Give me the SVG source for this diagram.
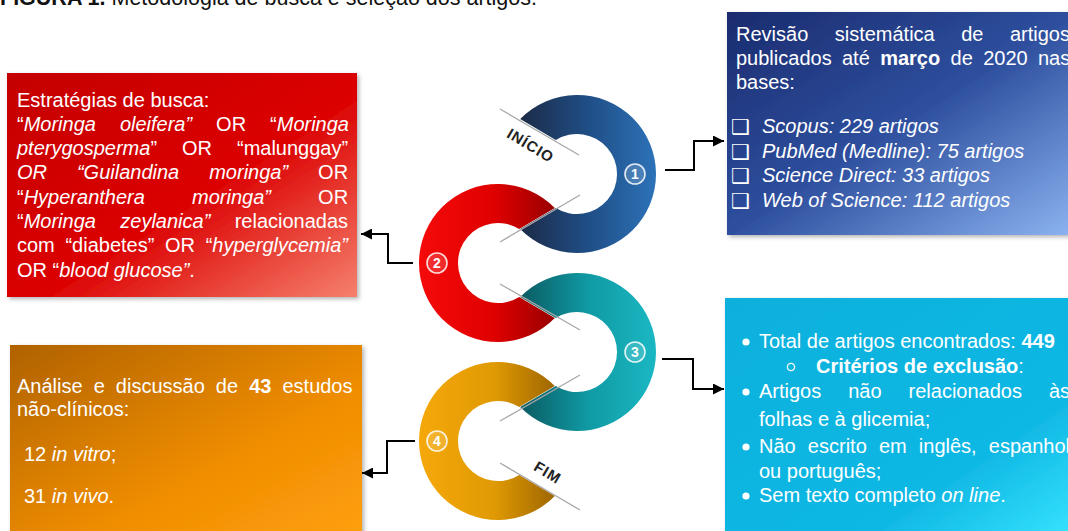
<svg xmlns="http://www.w3.org/2000/svg" width="1068" height="531" viewBox="0 0 1068 531">
<style>
.t{font-family:"Liberation Sans",Arial,sans-serif;font-size:20px;fill:#fff}
.i{font-style:italic}
.b{font-weight:bold}
.ttl{font-family:"Liberation Sans",Arial,sans-serif;font-size:21.5px;fill:#111}
.cut{stroke:#a8a8a8;stroke-width:1.3;fill:none}
.num{font-family:"Liberation Sans",Arial,sans-serif;font-size:14px;font-weight:bold;fill:#fff;text-anchor:middle}
.badge{fill:#fff;fill-opacity:.15;stroke:#fff;stroke-opacity:.85;stroke-width:1.6}
.lbl{font-family:"Liberation Sans",Arial,sans-serif;font-size:15px;font-weight:bold;fill:#222;letter-spacing:1px;text-anchor:middle}
.con{fill:none;stroke:#000;stroke-width:2;marker-end:url(#ah)}
.box{filter:url(#sh)}
.chk{font-family:"DejaVu Sans",sans-serif;font-size:21px;fill:#fff}
</style>
<defs>
<marker id="ah" viewBox="0 0 10 10" refX="10" refY="5" markerWidth="13" markerHeight="11" markerUnits="userSpaceOnUse" orient="auto"><path d="M0,0 L10,5 L0,10 z" fill="#000"/></marker>
<filter id="sh" x="-5%" y="-5%" width="112%" height="115%"><feDropShadow dx="2" dy="2" stdDeviation="2" flood-color="#000" flood-opacity=".3"/></filter>
<linearGradient id="gRed" x1="0" y1="0" x2="1" y2="1"><stop offset="0" stop-color="#c40000"/><stop offset=".55" stop-color="#dc0303"/><stop offset="1" stop-color="#f5806c"/></linearGradient>
<linearGradient id="gBlue" x1="0" y1="0" x2="1" y2="1"><stop offset="0" stop-color="#1a2b6e"/><stop offset=".5" stop-color="#2e4f9e"/><stop offset="1" stop-color="#8db4f2"/></linearGradient>
<linearGradient id="gCyan" x1="0" y1="0" x2="1" y2="1"><stop offset="0" stop-color="#0cb0dc"/><stop offset=".7" stop-color="#10b8e4"/><stop offset="1" stop-color="#38e4ff"/></linearGradient>
<linearGradient id="gOr" x1="0" y1="0" x2="1" y2="1"><stop offset="0" stop-color="#b06200"/><stop offset=".6" stop-color="#ef8d04"/><stop offset="1" stop-color="#ffa00a"/></linearGradient>
<linearGradient id="rBlue" gradientUnits="userSpaceOnUse" x1="520" y1="0" x2="656" y2="0"><stop offset="0" stop-color="#1c2b47"/><stop offset=".5" stop-color="#1f4e86"/><stop offset="1" stop-color="#2d72b8"/></linearGradient>
<linearGradient id="rRed" gradientUnits="userSpaceOnUse" x1="419" y1="0" x2="555" y2="0"><stop offset="0" stop-color="#f50a0a"/><stop offset=".55" stop-color="#e00000"/><stop offset="1" stop-color="#980000"/></linearGradient>
<linearGradient id="rTeal" gradientUnits="userSpaceOnUse" x1="520" y1="0" x2="656" y2="0"><stop offset="0" stop-color="#0b5a62"/><stop offset=".5" stop-color="#109aa4"/><stop offset="1" stop-color="#1ab8c3"/></linearGradient>
<linearGradient id="rOr" gradientUnits="userSpaceOnUse" x1="419" y1="0" x2="555" y2="0"><stop offset="0" stop-color="#f5a80a"/><stop offset=".55" stop-color="#e09a04"/><stop offset="1" stop-color="#9e6600"/></linearGradient>
</defs>
<rect width="1068" height="531" fill="#fff"/>
<text class="ttl" x="0" y="5"><tspan class="b">FIGURA 1.</tspan> Metodologia de busca e seleção dos artigos.</text>

<g id="spiral">
<path d="M520.2,119.1 A79,79 0 1 1 520.2,228.9 L555.8,207.9 A40,40 0 1 0 555.8,140.1 Z" fill="url(#rBlue)"/>
<path d="M554.8,208.1 A79,79 0 1 0 554.8,317.9 L519.2,296.9 A40,40 0 1 1 519.2,229.1 Z" fill="url(#rRed)"/>
<path d="M520.2,297.1 A79,79 0 1 1 520.2,406.9 L555.8,385.9 A40,40 0 1 0 555.8,318.1 Z" fill="url(#rTeal)"/>
<path d="M554.8,386.1 A79,79 0 1 0 554.8,495.9 L519.2,474.9 A40,40 0 1 1 519.2,407.1 Z" fill="url(#rOr)"/>
<line class="cut" x1="500" y1="109" x2="579" y2="155"/>
<line class="cut" x1="500" y1="242" x2="580" y2="195"/>
<line class="cut" x1="500" y1="284" x2="580" y2="330"/>
<line class="cut" x1="500" y1="421" x2="580" y2="375"/>
<line class="cut" x1="500" y1="463" x2="580" y2="510"/>
<text class="lbl" transform="translate(528,150) rotate(31)">INÍCIO</text>
<text class="lbl" transform="translate(545,477) rotate(31)">FIM</text>
</g>

<g id="n1"><circle class="badge" cx="635" cy="174" r="10"/><text class="num" x="635" y="179">1</text></g>
<g id="n2"><circle class="badge" cx="437" cy="263" r="10"/><text class="num" x="437" y="268">2</text></g>
<g id="n3"><circle class="badge" cx="635" cy="352" r="10"/><text class="num" x="635" y="357">3</text></g>
<g id="n4"><circle class="badge" cx="437" cy="441" r="10"/><text class="num" x="437" y="446">4</text></g>

<g id="connectors">
<path class="con" d="M665,170 H694 V141 H724"/>
<path class="con" d="M413,263 H388 V234 H361"/>
<path class="con" d="M662,359 H693 V389 H724"/>
<path class="con" d="M415,441 H387 V473 H362"/>
</g>

<g id="box-busca">
<rect class="box" x="7" y="73" width="350" height="224" fill="url(#gRed)"/>
<text class="t" x="17" y="107">Estratégias de busca:</text>
<text class="t" x="17" y="131" style="word-spacing:18.4px">“<tspan class="i">Moringa oleifera”</tspan> OR “<tspan class="i">Moringa</tspan></text>
<text class="t" x="17" y="155" style="word-spacing:19.4px"><tspan class="i">pterygosperma</tspan>” OR “malunggay”</text>
<text class="t" x="17" y="179" style="word-spacing:24.4px"><tspan class="i">OR “Guilandina moringa”</tspan> OR</text>
<text class="t" x="17" y="204" style="word-spacing:41.6px">“<tspan class="i">Hyperanthera moringa”</tspan> OR</text>
<text class="t" x="17" y="228" style="word-spacing:18.8px">“<tspan class="i">Moringa zeylanica”</tspan> relacionadas</text>
<text class="t" x="17" y="252" style="word-spacing:5.1px">com “diabetes” OR “<tspan class="i">hyperglycemia”</tspan></text>
<text class="t" x="17" y="277">OR “<tspan class="i">blood glucose”</tspan>.</text>
</g>

<g id="box-revisao">
<rect class="box" x="727" y="12" width="350" height="223" fill="url(#gBlue)"/>
<text class="t" x="736" y="41" style="word-spacing:20.9px">Revisão sistemática de artigos</text>
<text class="t" x="736" y="65" style="word-spacing:4.8px">publicados até <tspan class="b">março</tspan> de 2020 nas</text>
<text class="t" x="736" y="89">bases:</text>
<text class="chk" x="731" y="134">❑</text>
<text class="chk" x="731" y="159">❑</text>
<text class="chk" x="731" y="183">❑</text>
<text class="chk" x="731" y="208">❑</text>
<text class="t i" x="762" y="133">Scopus: 229 artigos</text>
<text class="t i" x="762" y="158">PubMed (Medline): 75 artigos</text>
<text class="t i" x="762" y="182">Science Direct: 33 artigos</text>
<text class="t i" x="762" y="207">Web of Science: 112 artigos</text>
</g>

<g id="box-exclusao">
<rect class="box" x="725" y="298" width="352" height="240" fill="url(#gCyan)"/>
<circle cx="746" cy="342" r="3.6" fill="#fff"/>
<text class="t" x="759" y="348">Total de artigos encontrados: <tspan class="b">449</tspan></text>
<circle cx="791" cy="367" r="3.6" fill="none" stroke="#fff" stroke-width="1.3"/>
<text class="t" x="816" y="373"><tspan class="b">Critérios de exclusão</tspan>:</text>
<circle cx="746" cy="392" r="3.6" fill="#fff"/>
<text class="t" x="759" y="398" style="word-spacing:21.4px">Artigos não relacionados às</text>
<text class="t" x="759" y="426">folhas e à glicemia;</text>
<circle cx="746" cy="447" r="3.6" fill="#fff"/>
<text class="t" x="759" y="453" style="word-spacing:6.6px">Não escrito em inglês, espanhol</text>
<text class="t" x="759" y="478">ou português;</text>
<circle cx="746" cy="496" r="3.6" fill="#fff"/>
<text class="t" x="759" y="502">Sem texto completo <tspan class="i">on line</tspan>.</text>
</g>

<g id="box-analise">
<rect class="box" x="10" y="345" width="352" height="193" fill="url(#gOr)"/>
<text class="t" x="17" y="393" style="word-spacing:5.5px">Análise e discussão de <tspan class="b">43</tspan> estudos</text>
<text class="t" x="17" y="416">não-clínicos:</text>
<text class="t" x="24" y="461">12 <tspan class="i">in vitro</tspan>;</text>
<text class="t" x="24" y="503">31 <tspan class="i">in vivo</tspan>.</text>
</g>
</svg>
